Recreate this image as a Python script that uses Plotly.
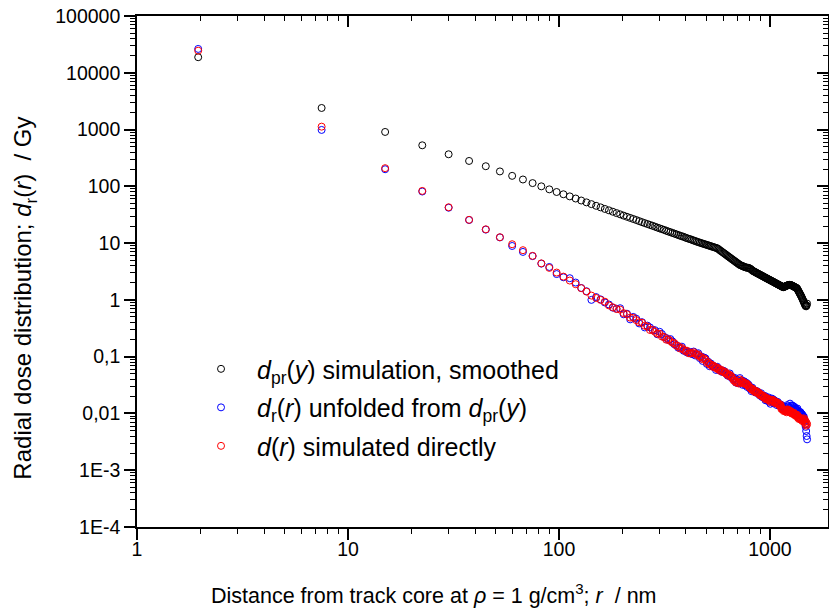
import plotly.graph_objects as go

# Radial distance r / nm (first point near core, then 7.5 nm bins)
radius_nm = [1.95,
    7.5, 15, 22.5, 30, 37.5, 45, 52.5, 60, 67.5, 75,
    82.5, 90, 97.5, 105, 112.5, 120, 127.5, 135, 142.5, 150,
    157.5, 165, 172.5, 180, 187.5, 195, 202.5, 210, 217.5, 225,
    232.5, 240, 247.5, 255, 262.5, 270, 277.5, 285, 292.5, 300,
    307.5, 315, 322.5, 330, 337.5, 345, 352.5, 360, 367.5, 375,
    382.5, 390, 397.5, 405, 412.5, 420, 427.5, 435, 442.5, 450,
    457.5, 465, 472.5, 480, 487.5, 495, 502.5, 510, 517.5, 525,
    532.5, 540, 547.5, 555, 562.5, 570, 577.5, 585, 592.5, 600,
    607.5, 615, 622.5, 630, 637.5, 645, 652.5, 660, 667.5, 675,
    682.5, 690, 697.5, 705, 712.5, 720, 727.5, 735, 742.5, 750,
    757.5, 765, 772.5, 780, 787.5, 795, 802.5, 810, 817.5, 825,
    832.5, 840, 847.5, 855, 862.5, 870, 877.5, 885, 892.5, 900,
    907.5, 915, 922.5, 930, 937.5, 945, 952.5, 960, 967.5, 975,
    982.5, 990, 997.5, 1005, 1012.5, 1020, 1027.5, 1035, 1042.5, 1050,
    1057.5, 1065, 1072.5, 1080, 1087.5, 1095, 1102.5, 1110, 1117.5, 1125,
    1132.5, 1140, 1147.5, 1155, 1162.5, 1170, 1177.5, 1185, 1192.5, 1200,
    1207.5, 1215, 1222.5, 1230, 1237.5, 1245, 1252.5, 1260, 1267.5, 1275,
    1282.5, 1290, 1297.5, 1305, 1312.5, 1320, 1327.5, 1335, 1342.5, 1350,
    1357.5, 1365, 1372.5, 1380, 1387.5, 1395, 1402.5, 1410, 1417.5, 1425,
    1432.5, 1440, 1447.5, 1455, 1462.5, 1470, 1477.5, 1485, 1492.5, 1500]

# d_pr(y) simulation, smoothed  (Gy)
dose_pr_smoothed = [18800,
    2400, 908, 528, 367, 280, 226, 183, 153, 132, 114,
    100, 88.5, 79.5, 72.5, 66.5, 61.0, 56.3, 52.2, 48.6, 45.4,
    42.6, 40.0, 37.8, 35.7, 33.8, 32.1, 30.5, 29.1, 27.8, 26.6,
    25.5, 24.4, 23.4, 22.5, 21.7, 20.9, 20.2, 19.5, 18.8, 18.2,
    17.6, 17.1, 16.5, 16.0, 15.6, 15.1, 14.7, 14.3, 13.9, 13.5,
    13.2, 12.9, 12.5, 12.2, 11.9, 11.7, 11.4, 11.1, 10.9, 10.6,
    10.4, 10.2, 10.0, 9.81, 9.63, 9.46, 9.29, 9.13, 8.97, 8.81,
    8.66, 8.52, 8.38, 8.25, 8.11, 7.83, 7.55, 7.29, 7.04, 6.80,
    6.58, 6.36, 6.15, 5.95, 5.76, 5.58, 5.41, 5.24, 5.08, 4.93,
    4.78, 4.64, 4.51, 4.38, 4.25, 4.13, 4.06, 4.00, 3.93, 3.87,
    3.81, 3.75, 3.70, 3.70, 3.68, 3.64, 3.58, 3.50, 3.40, 3.30,
    3.22, 3.17, 3.11, 3.06, 3.00, 2.95, 2.90, 2.85, 2.81, 2.76,
    2.71, 2.67, 2.63, 2.58, 2.54, 2.50, 2.46, 2.42, 2.39, 2.35,
    2.31, 2.28, 2.25, 2.21, 2.18, 2.15, 2.12, 2.09, 2.06, 2.03,
    2.00, 1.97, 1.94, 1.92, 1.89, 1.86, 1.84, 1.81, 1.79, 1.77,
    1.74, 1.72, 1.70, 1.67, 1.68, 1.70, 1.72, 1.74, 1.76, 1.78,
    1.80, 1.81, 1.82, 1.83, 1.84, 1.84, 1.83, 1.82, 1.80, 1.78,
    1.76, 1.74, 1.72, 1.70, 1.68, 1.66, 1.64, 1.62, 1.61, 1.55,
    1.49, 1.44, 1.38, 1.33, 1.28, 1.23, 1.19, 1.14, 1.09, 1.05,
    1.00, 0.96, 0.92, 0.88, 0.84, 0.80, 0.78, 0.77, 0.80, 0.86]

# d_r(r) unfolded from d_pr(y)  (Gy)
dose_unfolded = [26300,
    985, 200, 81, 42, 25.5, 17.3, 12.6, 8.9, 7.0, 5.9,
    4.35, 3.8, 2.85, 2.50, 2.41, 2.02, 1.62, 1.42, 1.0, 1.12,
    1.02, 0.90, 0.83, 0.73, 0.70, 0.713, 0.558, 0.571, 0.454, 0.501,
    0.466, 0.385, 0.405, 0.327, 0.352, 0.327, 0.297, 0.293, 0.248, 0.274,
    0.251, 0.222, 0.213, 0.197, 0.204, 0.186, 0.165, 0.160, 0.144, 0.144,
    0.150, 0.127, 0.128, 0.118, 0.119, 0.121, 0.111, 0.123, 0.105, 0.111,
    0.115, 0.0944, 0.101, 0.0840, 0.0965, 0.0933, 0.0745, 0.0814, 0.0679, 0.0756,
    0.0706, 0.0662, 0.0672, 0.0584, 0.0663, 0.0622, 0.0577, 0.0567, 0.0538, 0.0568,
    0.0555, 0.0514, 0.0505, 0.0465, 0.0474, 0.0506, 0.0435, 0.0446, 0.0400, 0.0409,
    0.0421, 0.0350, 0.0392, 0.0342, 0.0364, 0.0420, 0.0350, 0.0380, 0.0319, 0.0371,
    0.0362, 0.0314, 0.0347, 0.0293, 0.0329, 0.0311, 0.0275, 0.0282, 0.0247, 0.0284,
    0.0268, 0.0245, 0.0243, 0.0233, 0.0248, 0.0245, 0.0228, 0.0226, 0.0210, 0.0215,
    0.0227, 0.0196, 0.0203, 0.0191, 0.0197, 0.0204, 0.0171, 0.0193, 0.0169, 0.0181,
    0.0192, 0.0161, 0.0176, 0.0148, 0.0174, 0.0183, 0.0159, 0.0177, 0.0150, 0.0170,
    0.0161, 0.0154, 0.0159, 0.0140, 0.0160, 0.0152, 0.0140, 0.0140, 0.0134, 0.0144,
    0.0136, 0.0128, 0.0127, 0.0118, 0.0122, 0.0132, 0.0115, 0.0118, 0.0113, 0.0116,
    0.0140, 0.0117, 0.0133, 0.0117, 0.0125, 0.0149, 0.0126, 0.0138, 0.0117, 0.0137,
    0.0136, 0.0118, 0.0133, 0.0112, 0.0127, 0.0121, 0.0116, 0.0120, 0.0106, 0.0122,
    0.0111, 0.0103, 0.0103, 0.00991, 0.0106, 0.0105, 0.00991, 0.00989, 0.00923, 0.00955,
    0.0090, 0.0084, 0.0088, 0.0078, 0.0072, 0.0064, 0.0058, 0.0049, 0.0040, 0.0035]

# d(r) simulated directly  (Gy)
dose_direct = [24500,
    1125, 209, 83, 42.8, 25.7, 17.5, 12.7, 9.56, 7.5, 5.96,
    4.4, 3.66, 3.03, 2.57, 2.19, 1.89, 1.61, 1.40, 1.19, 1.08,
    1.0, 0.93, 0.80, 0.74, 0.69, 0.673, 0.584, 0.558, 0.487, 0.484,
    0.440, 0.403, 0.396, 0.350, 0.340, 0.295, 0.297, 0.274, 0.254, 0.253,
    0.226, 0.222, 0.199, 0.202, 0.188, 0.176, 0.173, 0.156, 0.154, 0.139,
    0.142, 0.133, 0.125, 0.127, 0.115, 0.114, 0.116, 0.120, 0.113, 0.107,
    0.109, 0.0989, 0.0988, 0.0900, 0.0932, 0.0881, 0.0780, 0.0796, 0.0728, 0.0730,
    0.0667, 0.0693, 0.0657, 0.0626, 0.0641, 0.0587, 0.0604, 0.0554, 0.0577, 0.0549,
    0.0524, 0.0538, 0.0494, 0.0498, 0.0458, 0.0478, 0.0456, 0.0436, 0.0409, 0.0377,
    0.0380, 0.0350, 0.0366, 0.0350, 0.0336, 0.0397, 0.0366, 0.0371, 0.0342, 0.0358,
    0.0342, 0.0329, 0.0339, 0.0314, 0.0318, 0.0294, 0.0288, 0.0276, 0.0265, 0.0274,
    0.0253, 0.0257, 0.0238, 0.0250, 0.0240, 0.0231, 0.0239, 0.0221, 0.0225, 0.0208,
    0.0214, 0.0205, 0.0198, 0.0205, 0.0190, 0.0193, 0.0179, 0.0189, 0.0181, 0.0175,
    0.0181, 0.0169, 0.0172, 0.0159, 0.0168, 0.0173, 0.0167, 0.0173, 0.0161, 0.0164,
    0.0152, 0.0161, 0.0155, 0.0150, 0.0155, 0.0144, 0.0147, 0.0137, 0.0144, 0.0139,
    0.0120, 0.0125, 0.0116, 0.0118, 0.0110, 0.0116, 0.0112, 0.0108, 0.0113, 0.0105,
    0.0118, 0.0109, 0.0116, 0.0112, 0.0108, 0.0112, 0.0105, 0.0107, 0.00996, 0.0105,
    0.0102, 0.00985, 0.0103, 0.00956, 0.00977, 0.00910, 0.00963, 0.00930, 0.00901, 0.00939,
    0.00836, 0.00855, 0.00797, 0.00844, 0.00815, 0.00791, 0.00824, 0.00768, 0.00786, 0.00733,
    0.00777, 0.00750, 0.0082, 0.0071, 0.0078, 0.0066, 0.0072, 0.0061, 0.0068, 0.0064]

assert len(radius_nm) == len(dose_pr_smoothed) == len(dose_unfolded) == len(dose_direct), (
    len(radius_nm), len(dose_pr_smoothed), len(dose_unfolded), len(dose_direct))

series_names = [
    "<i>d</i><sub>pr</sub>(<i>y</i>) simulation, smoothed",
    "<i>d</i><sub>r</sub>(<i>r</i>) unfolded from <i>d</i><sub>pr</sub>(<i>y</i>)",
    "<i>d</i>(<i>r</i>) simulated directly",
]
series_colors = ["#000000", "#0000ff", "#ff0000"]
series_values = [dose_pr_smoothed, dose_unfolded, dose_direct]

x_tick_vals = [1, 10, 100, 1000]
x_tick_text = ["1", "10", "100", "1000"]
y_tick_vals = [1e5, 1e4, 1e3, 1e2, 10, 1, 0.1, 0.01, 1e-3, 1e-4]
y_tick_text = ["100000", "10000", "1000", "100", "10", "1", "0,1", "0,01", "1E-3", "1E-4"]

x_title = "Distance from track core at <i>ρ</i> = 1 g/cm<sup>3</sup>; <i>r</i>\u00a0 / nm"
y_title = "Radial dose distribution; <i>d</i><sub>r</sub>(<i>r</i>)\u00a0 / Gy"

x_minor = [m * 10 ** e for e in range(0, 4) for m in range(2, 10)]
y_minor = [m * 10.0 ** e for e in range(-4, 5) for m in range(2, 10)]

FONT = "Liberation Sans, Arial, sans-serif"

fig = go.Figure()
for i, (nm, col, vals) in enumerate(zip(series_names, series_colors, series_values)):
    fig.add_trace(go.Scatter(
        x=radius_nm, y=vals, mode="markers", name=nm, legendgroup=f"g{i}",
        marker=dict(symbol="circle-open", size=7, color=col, line=dict(width=1, color=col)),
    ))

# invisible helper trace so that the mirrored top/right axes are drawn
fig.add_trace(go.Scatter(x=[radius_nm[0]], y=[dose_pr_smoothed[0]], xaxis="x2", yaxis="y2",
                         mode="markers", marker=dict(opacity=0), showlegend=False, hoverinfo="skip"))

x_range = [0, 3.2752]
y_range = [-4, 5]

common_axis = dict(type="log", showgrid=False, zeroline=False, showline=True,
                   linecolor="black", linewidth=1.6, tickcolor="black", tickwidth=1.5)

fig.update_layout(
    width=829, height=615,
    margin=dict(l=137, r=1, t=16, b=88),
    paper_bgcolor="white", plot_bgcolor="white",
    font=dict(family=FONT, color="black"),
    showlegend=True,
    legend=dict(x=0.0695, y=0.354, xanchor="left", yanchor="top",
                font=dict(family=FONT, size=25, color="black"),
                bgcolor="rgba(0,0,0,0)", borderwidth=0, itemwidth=62,
                traceorder="grouped", tracegroupgap=3, itemsizing="trace"),
    xaxis=dict(common_axis, range=x_range, tickmode="array", tickvals=x_tick_vals, ticktext=x_tick_text,
               ticks="outside", ticklen=11, tickfont=dict(size=19.5), ticklabelstandoff=-7,
               minor=dict(tickmode="array", tickvals=x_minor, ticks="outside", ticklen=5,
                          tickcolor="black", tickwidth=1.2)),
    yaxis=dict(common_axis, range=y_range, tickmode="array", tickvals=y_tick_vals, ticktext=y_tick_text,
               ticks="outside", ticklen=11, tickfont=dict(size=19.5),
               minor=dict(tickmode="array", tickvals=y_minor, ticks="outside", ticklen=5,
                          tickcolor="black", tickwidth=1.2)),
    xaxis2=dict(common_axis, range=x_range, overlaying="x", side="top", anchor="y",
                tickmode="array", tickvals=x_tick_vals, showticklabels=False,
                ticks="inside", ticklen=11,
                minor=dict(tickmode="array", tickvals=x_minor, ticks="inside", ticklen=5,
                           tickcolor="black", tickwidth=1.2)),
    yaxis2=dict(common_axis, range=y_range, overlaying="y", side="right", anchor="x",
                tickmode="array", tickvals=y_tick_vals, showticklabels=False,
                ticks="inside", ticklen=11,
                minor=dict(tickmode="array", tickvals=y_minor, ticks="inside", ticklen=5,
                           tickcolor="black", tickwidth=1.2)),
    annotations=[
        dict(text=x_title, xref="paper", yref="paper", x=0.4298, y=-0.131,
             xanchor="center", yanchor="middle", showarrow=False, font=dict(size=21.5)),
        dict(text=y_title, xref="paper", yref="paper", x=-0.162, y=0.447, textangle=-90,
             xanchor="center", yanchor="middle", showarrow=False, font=dict(size=24)),
    ],
)

fig.write_html("out.html")
